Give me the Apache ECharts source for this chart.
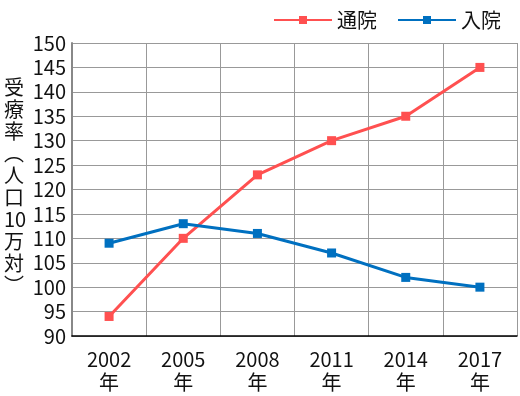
<!DOCTYPE html>
<html><head><meta charset="utf-8">
<script src="https://cdn.jsdelivr.net/npm/echarts@6/dist/echarts.min.js"></script>
<style>html,body{margin:0;padding:0;background:#fff}#c{width:520px;height:396px}</style>
</head><body><div id="c"></div>
<script>
const categories = ['2002\n年','2005\n年','2008\n年','2011\n年','2014\n年','2017\n年'];
const outpatient = [94, 110, 123, 130, 135, 145];
const inpatient = [109, 113, 111, 107, 102, 100];
const seriesNames = ['通院', '入院'];
const yName = '受\n療\n率\n︵\n人\n口\n10\n万\n対\n︶';
const font = '"Noto Sans CJK JP", "Noto Sans", sans-serif';
const chart = echarts.init(document.getElementById('c'));
chart.setOption({
  animation: false,
  textStyle: {fontFamily: font},
  legend: {
    top: 5, right: 14, itemWidth: 58, itemHeight: 10, itemGap: 20,
    textStyle: {fontSize: 20, color: '#111', fontFamily: font},
    data: seriesNames
  },
  grid: {left: 72, right: 3, top: 43, bottom: 60},
  graphic: [{
    type: 'text', left: 4, top: 76,
    style: {text: yName, font: '20px ' + font, fill: '#111', lineHeight: 22, align: 'center', x: 10}
  }],
  xAxis: {
    type: 'category', data: categories, boundaryGap: true,
    axisLine: {lineStyle: {color: '#000', width: 1.5}},
    axisTick: {show: false},
    axisLabel: {fontSize: 20, color: '#111', lineHeight: 23, margin: 12, fontFamily: font},
    splitLine: {show: true, lineStyle: {color: '#999', width: 1}}
  },
  yAxis: {
    type: 'value', min: 90, max: 150, interval: 5,
    axisLine: {show: true, lineStyle: {color: '#888', width: 2}},
    axisTick: {show: false},
    axisLabel: {fontSize: 20, color: '#111', margin: 6, fontFamily: font},
    splitLine: {lineStyle: {color: '#999', width: 1}}
  },
  series: [{
    name: seriesNames[0], type: 'line', data: outpatient,
    symbol: 'rect', symbolSize: 9,
    lineStyle: {color: '#FF5050', width: 3}, itemStyle: {color: '#FF5050'}
  }, {
    name: seriesNames[1], type: 'line', data: inpatient,
    symbol: 'rect', symbolSize: 9,
    lineStyle: {color: '#0070C0', width: 3}, itemStyle: {color: '#0070C0'}
  }]
});
</script></body></html>
